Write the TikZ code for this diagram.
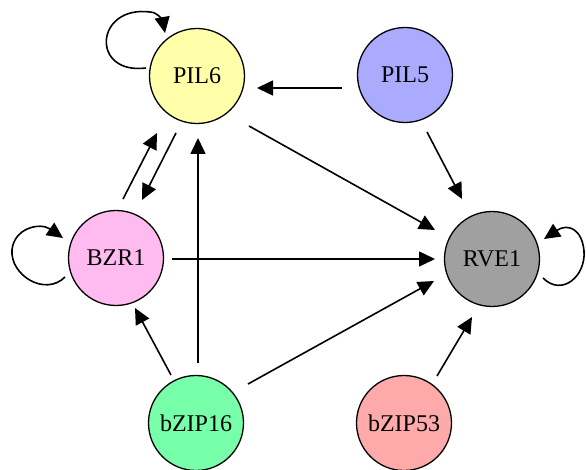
\documentclass[tikz,border=0pt]{standalone}
\usepackage{fontspec}
\setmainfont{Liberation Serif}
\usetikzlibrary{arrows.meta,calc}
\definecolor{cpilsix}{HTML}{FFFFAA}
\definecolor{cpilfive}{HTML}{AAAAFF}
\definecolor{cbzr}{HTML}{FFBBF0}
\definecolor{crve}{HTML}{A0A0A0}
\definecolor{czipsixteen}{HTML}{77FFAA}
\definecolor{czipfiftythree}{HTML}{FFAAAA}
\begin{document}
\begin{tikzpicture}[x=1pt,y=-1pt,
  gene/.style={circle,draw=black,line width=1.3pt,minimum size=95pt,inner sep=0pt,
    font=\fontsize{24}{28}\selectfont},
  arr/.style={line width=1.6pt,-{Triangle[length=16pt,width=15pt]}}]
\useasboundingbox (0,0) rectangle (586,470);
\node[gene,fill=cpilsix] (pil6) at (197,76) {PIL6};
\node[gene,fill=cpilfive] (pil5) at (405,75) {PIL5};
\node[gene,fill=cbzr] (bzr1) at (116,258) {BZR1};
\node[gene,fill=crve] (rve1) at (492,259) {RVE1};
\node[gene,fill=czipsixteen] (bzip16) at (196,423) {bZIP16};
\node[gene,fill=czipfiftythree] (bzip53) at (404,423) {bZIP53};
% edges
\draw[arr] ($(pil5)+(-63,13)$) -- ($(pil6)+(60,12)$);
\draw[arr] ($(pil6)+(52,50)$) -- ($(rve1)+(-57,-29)$);
\draw[arr] ($(pil5)+(22,57)$) -- ($(rve1)+(-30,-60)$);
\draw[arr] ($(bzr1)+(56,1)$) -- ($(rve1)+(-57,0)$);
\draw[arr] ($(bzip16)+(52,-39)$) -- ($(rve1)+(-58,22)$);
\draw[arr] ($(bzip53)+(33,-47)$) -- ($(rve1)+(-20,58)$);
\draw[arr] ($(bzip16)+(-25,-48)$) -- ($(bzr1)+(19,50)$);
\draw[arr] ($(bzip16)+(2,-60)$) -- ($(pil6)+(1,62)$);
\draw[arr] ($(bzr1)+(7,-59)$) -- ($(pil6)+(-40,57)$);
\draw[arr] ($(pil6)+(-21,57)$) -- ($(bzr1)+(26,-58)$);
% self loops
\draw[arr] ($(pil6)+(-51,-8)$) .. controls ($(pil6)+(-107,-1)$) and ($(pil6)+(-102,-71)$) .. ($(pil6)+(-47,-64)$)
  .. controls ($(pil6)+(-39,-64)$) and ($(pil6)+(-34,-54)$) .. ($(pil6)+(-32,-43)$);
\draw[arr] ($(bzr1)+(-51,19)$) .. controls ($(bzr1)+(-71,39)$) and ($(bzr1)+(-106,17)$) .. ($(bzr1)+(-104,-8)$)
  .. controls ($(bzr1)+(-102,-30)$) and ($(bzr1)+(-76,-36)$) .. ($(bzr1)+(-53,-20)$);
\draw[arr] ($(rve1)+(51,19)$) .. controls ($(rve1)+(70,38)$) and ($(rve1)+(94,17)$) .. ($(rve1)+(92,-8)$)
  .. controls ($(rve1)+(90,-30)$) and ($(rve1)+(76,-36)$) .. ($(rve1)+(52,-20)$);
\end{tikzpicture}
\end{document}
